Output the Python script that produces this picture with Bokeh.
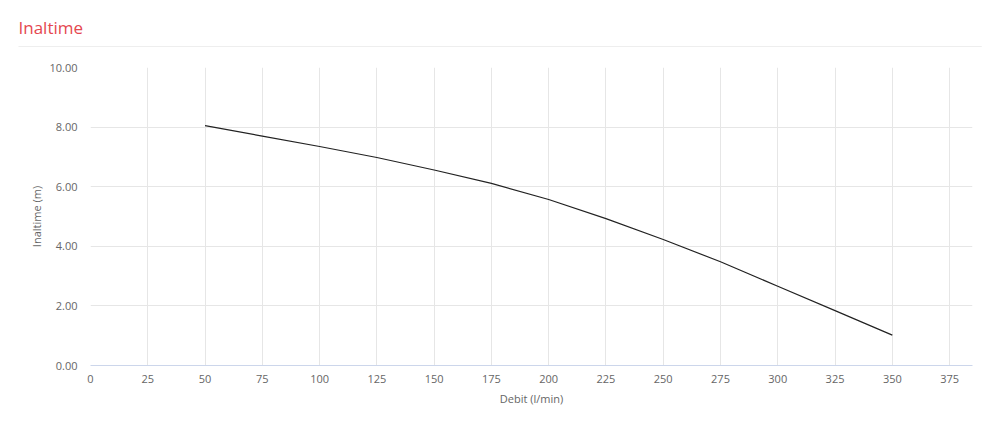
from bokeh.plotting import figure
from bokeh.models import NumeralTickFormatter, FixedTicker, Range1d, Title
from bokeh.embed import file_html
from bokeh.resources import INLINE

# ---- data ----
title_text = "Inaltime"
x_label = "Debit (l/min)"
y_label = "Inaltime (m)"
debit = [50, 75, 100, 125, 150, 175, 200, 225, 250, 275, 300, 325, 350]
inaltime = [8.05, 7.70, 7.35, 6.98, 6.56, 6.11, 5.57, 4.93, 4.23, 3.48, 2.66, 1.84, 1.02]
x_ticks = [0, 25, 50, 75, 100, 125, 150, 175, 200, 225, 250, 275, 300, 325, 350, 375]
y_ticks = [0, 2, 4, 6, 8, 10]

FONT = "Open Sans"

p = figure(width=991, height=429, output_backend="svg", toolbar_location=None,
           x_range=Range1d(0, 385), y_range=Range1d(0, 10),
           min_border_left=90, min_border_right=19, min_border_top=67,
           min_border_bottom=64)
p.outline_line_color = None

# separator line above the frame (a thin padded title box)
sep = Title(text=" ", text_font_size="1px", align="left", offset=-72,
            vertical_align="top", standoff=37,
            background_fill_color="#eeeeee", background_fill_alpha=1,
            padding=dict(left=0, right=963, top=0, bottom=0))
p.add_layout(sep, "above")

# chart title
p.title.text = title_text
p.title.text_font = FONT
p.title.text_font_size = "17px"
p.title.text_font_style = "normal"
p.title.text_color = "#e5474f"
p.title.align = "left"
p.title.offset = -72
p.title.vertical_align = "bottom"
p.title.standoff = -23.4

p.line(debit, inaltime, line_color="#222222", line_width=1.2)

p.xaxis.ticker = FixedTicker(ticks=x_ticks)
p.yaxis.ticker = FixedTicker(ticks=y_ticks)
p.yaxis.formatter = NumeralTickFormatter(format="0.00")

for ax in (p.xaxis, p.yaxis):
    ax.major_tick_in = 0
    ax.major_tick_out = 0
    ax.minor_tick_in = 0
    ax.minor_tick_out = 0
    ax.major_label_text_font = FONT
    ax.major_label_text_font_size = "11px"
    ax.major_label_text_color = "#666666"
    ax.axis_label_text_font = FONT
    ax.axis_label_text_font_size = "11px"
    ax.axis_label_text_color = "#666666"
    ax.axis_label_text_font_style = "normal"

p.xaxis.axis_label = x_label
p.yaxis.axis_label = y_label
p.xaxis.axis_line_color = "#ccd6eb"
p.yaxis.axis_line_color = None
p.xaxis.major_label_standoff = 9
p.yaxis.major_label_standoff = 13
p.xaxis.axis_label_standoff = 5
p.yaxis.axis_label_standoff = 2

p.xgrid.ticker = FixedTicker(ticks=x_ticks)
p.ygrid.ticker = FixedTicker(ticks=y_ticks)
p.grid.grid_line_color = "#e6e6e6"
p.grid.grid_line_width = 1

open("out.html", "w").write(file_html(p, INLINE))
